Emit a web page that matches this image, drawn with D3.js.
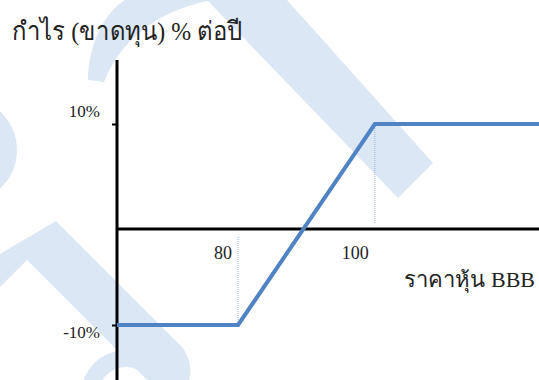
<!DOCTYPE html>
<html>
<head>
<meta charset="utf-8">
<script src="https://cdn.jsdelivr.net/npm/d3@7"></script>
<style>
	body { margin: 0; background: #fff; }
	svg { display: block; }
	text { font-family: "Liberation Serif", "Times New Roman", serif; fill: #222; }
</style>
</head>
<body>
<div id="chart-area"></div>
<script>
// Payoff data: stock price vs. profit (loss) % per year
let prices = [62.3, 80, 100, 124];
let profits = [-10, -10, 10, 10];

// Marked levels on each axis
let priceTicks = [80, 100];
let profitTicks = [-10, 10];

let titleText = "กำไร (ขาดทุน) % ต่อปี";
let xLabelText = "ราคาหุ้น BBB";

let width = 539,
	height = 380;

let svg = d3.select("#chart-area")
	.append("svg")
	.attr("width", width)
	.attr("height", height);

/* -------------- WATERMARK --------------- */
let wm = svg.append("g")
	.attr("class", "watermark")
	.attr("fill", "#dce7f5");

// top arc
wm.append("path")
	.attr("d", "M88,80 C88,45 105,12 125,0 L212,0 C170,8 125,30 104,82 Z");
// diagonal band
wm.append("path")
	.attr("d", "M207,0 L287,0 L433,163 L398,198 Z");
// left blob
wm.append("ellipse")
	.attr("cx", -30).attr("cy", 150)
	.attr("rx", 47).attr("ry", 50);
// lower chevron
wm.append("path")
	.attr("d", "M0,254 L56,221 L183,348 Q194,366 189,380 L147,380 L27,260 L0,287 Z");
// lower ring
wm.append("path")
	.attr("d", d3.arc()({innerRadius: 28, outerRadius: 45, startAngle: -Math.PI, endAngle: Math.PI}))
	.attr("transform", "translate(126,395)");

/* -------------- SCALES --------------- */
let x = d3.scaleLinear()
	.domain([d3.min(prices), d3.max(prices)])
	.range([117, 539]);

let y = d3.scaleLinear()
	.domain([-10, 0, 10])
	.range([325, 229, 124]);

/* -------------- GUIDE LINES --------------- */
// dotted drops from the kinks to the zero line
svg.selectAll(".guide")
	.data(priceTicks)
	.enter()
	.append("line")
	.attr("class", "guide")
	.attr("x1", d => x(d))
	.attr("x2", d => x(d))
	.attr("y1", (d, i) => i === 0 ? y(0) + 8 : y(profits[prices.indexOf(d)]))
	.attr("y2", (d, i) => i === 0 ? y(profits[prices.indexOf(d)]) : y(0) - 5)
	.attr("stroke", "#8eb4e3")
	.attr("stroke-width", 1)
	.attr("stroke-dasharray", "1,1");

/* -------------- AXES --------------- */
// x axis (zero line)
svg.append("line")
	.attr("x1", x.range()[0])
	.attr("x2", x.range()[1])
	.attr("y1", y(0))
	.attr("y2", y(0))
	.attr("stroke", "#000")
	.attr("stroke-width", 3);

// y axis line
svg.append("line")
	.attr("x1", x.range()[0])
	.attr("x2", x.range()[0])
	.attr("y1", 60)
	.attr("y2", height)
	.attr("stroke", "#000")
	.attr("stroke-width", 3);

let yAxis = d3.axisLeft(y)
	.tickValues(profitTicks)
	.tickSize(5)
	.tickFormat(d => d + "%");

let yAxisGroup = svg.append("g")
	.attr("class", "axis y-axis")
	.attr("transform", "translate(" + x.range()[0] + ",0)")
	.call(yAxis);

yAxisGroup.select(".domain").remove();
yAxisGroup.selectAll(".tick line")
	.attr("stroke", "#000")
	.attr("stroke-width", 2);
yAxisGroup.selectAll(".tick text")
	.attr("x", -17)
	.attr("dy", d => d > 0 ? "-0.45em" : "0.75em")
	.style("font-family", "'Liberation Serif', serif")
	.style("font-size", "17px")
	.attr("fill", "#1a1a1a");

// x tick labels
svg.selectAll("text.x-tick")
	.data(priceTicks)
	.enter()
	.append("text")
	.attr("class", "x-tick")
	.attr("x", d => x(d) - 6)
	.attr("y", y(0) + 30)
	.attr("text-anchor", "end")
	.attr("font-size", "18px")
	.text(d => d);

/* -------------- PAYOFF LINE --------------- */
let lineGen = d3.line()
	.x((d, i) => x(prices[i]))
	.y(d => y(d));

svg.append("path")
	.datum(profits)
	.attr("d", lineGen)
	.attr("fill", "none")
	.attr("stroke", "#4f83c4")
	.attr("stroke-width", 4)
	.attr("stroke-linejoin", "miter");

/* -------------- LABELS --------------- */
svg.append("text")
	.attr("x", 12)
	.attr("y", 40)
	.attr("font-size", "26px")
	.attr("textLength", 231)
	.attr("lengthAdjust", "spacingAndGlyphs")
	.text(titleText);

svg.append("text")
	.attr("x", 535)
	.attr("y", 287)
	.attr("text-anchor", "end")
	.attr("font-size", "22px")
	.text(xLabelText);
</script>
</body>
</html>
